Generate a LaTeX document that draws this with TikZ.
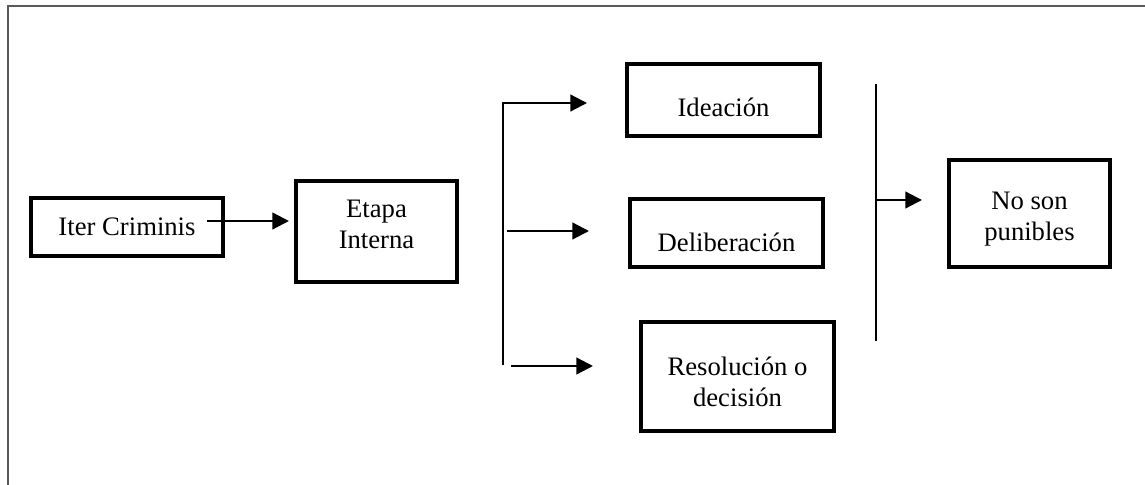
\documentclass[tikz,border=0pt]{standalone}
\usepackage{fontspec}
\setmainfont{Liberation Serif}
\usetikzlibrary{arrows.meta}
\tikzset{
	box/.style={draw, line width=1.6pt, inner sep=0pt, outer sep=0pt},
	arr/.style={line width=1pt, -{Triangle[length=7.5pt,width=7.5pt]}},
	bar/.style={line width=1pt},
	frame/.style={draw=black!65, line width=1pt}
}

\begin{document}
\begin{tikzpicture}[x=0.45pt,y=-0.45pt,
	every label/.style={font=\fontsize{12}{14}\selectfont, align=center, inner sep=0pt}]
	\useasboundingbox (0,0) rectangle (1145,485);
	\draw[frame] (8,485) -- (8,6) -- (1145,6);
	% boxes
	\node[box, minimum width=86.6pt, minimum height=26.3pt,
		label={center:Iter Criminis}] (iter) at (127,227) {};
	\node[box, minimum width=72.6pt, minimum height=45.6pt,
		label={[yshift=3.2pt]center:{Etapa\\Interna}}] (etapa) at (376.5,231.5) {};
	\node[box, minimum width=87pt, minimum height=32.6pt,
		label={[yshift=-3.4pt]center:Ideación}] (idea) at (723.5,100) {};
	\node[box, minimum width=87pt, minimum height=30.8pt,
		label={[yshift=-4pt]center:Deliberación}] (delib) at (726.5,233) {};
	\node[box, minimum width=87pt, minimum height=49.2pt,
		label={[yshift=-2.5pt]center:{Resolución o\\decisión}}] (resol) at (737.5,376.5) {};
	\node[box, minimum width=72.6pt, minimum height=48.3pt,
		label={[yshift=-2.7pt]center:{No son\\punibles}}] (noson) at (1029.5,213.5) {};
	% ends of the connectors
	\coordinate (iter tail) at (207,221);
	\coordinate (to etapa) at (289,221);
	\coordinate (fork top) at (503,103);
	\coordinate (fork bot) at (503,365);
	\coordinate (to idea) at (587,103);
	\coordinate (mid tail) at (507,231);
	\coordinate (to delib) at (589,231);
	\coordinate (bot tail) at (511,366);
	\coordinate (to resol) at (593,366);
	\coordinate (bar top) at (876,84);
	\coordinate (bar bot) at (876,341);
	\coordinate (bar tail) at (876,200);
	\coordinate (to noson) at (922,200);
	% connectors
	\draw[arr] (iter tail) -- (to etapa);
	\draw[arr] (fork bot) -- (fork top) -- (to idea);
	\draw[arr] (mid tail) -- (to delib);
	\draw[arr] (bot tail) -- (to resol);
	\draw[bar] (bar top) -- (bar bot);
	\draw[arr] (bar tail) -- (to noson);
\end{tikzpicture}
\end{document}
